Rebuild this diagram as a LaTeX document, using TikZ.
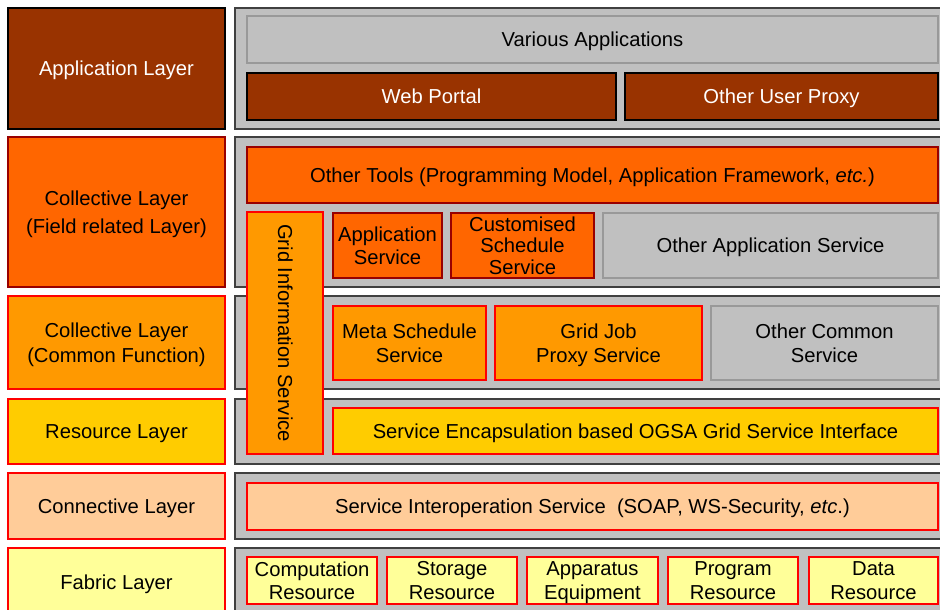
\documentclass[tikz,border=0pt]{standalone}
\usepackage{fontspec}
\setmainfont{Liberation Sans}
\usepackage{tikz}

\definecolor{appbrown}{HTML}{993300}
\definecolor{fieldorange}{HTML}{FF6600}
\definecolor{commonorange}{HTML}{FF9900}
\definecolor{resyellow}{HTML}{FFCC00}
\definecolor{connpeach}{HTML}{FFCC99}
\definecolor{fabyellow}{HTML}{FFFF99}
\definecolor{panelgray}{HTML}{C0C0C0}
\definecolor{panelline}{HTML}{404040}
\definecolor{innergray}{HTML}{999999}
\definecolor{darkred}{HTML}{990000}

\tikzset{
    wh/.style 2 args={minimum width=#1pt, minimum height=#2pt},
    panel/.style={draw=panelline, fill=panelgray, line width=2pt, anchor=north west, inner sep=0pt, outer sep=0pt},
    box/.style={line width=1.5pt, anchor=north west, inner sep=0pt, outer sep=0pt, align=center,
        text depth=-4pt, font=\fontsize{20.2}{23.5}\selectfont},
    brownbox/.style={box, draw=black, fill=appbrown, text=white},
    fieldbox/.style={box, draw=darkred, fill=fieldorange},
    commonbox/.style={box, draw=red, fill=commonorange},
    resbox/.style={box, draw=red, fill=resyellow},
    connbox/.style={box, draw=red, fill=connpeach},
    fabbox/.style={box, draw=red, fill=fabyellow},
    graybox/.style={box, draw=innergray, fill=panelgray},
}

\begin{document}
\begin{tikzpicture}[x=1pt, y=-1pt]
    \useasboundingbox (0,0) rectangle (940,610);
    \clip (0,0) rectangle (940,610);

    % grey panels on the right
    \node[panel, wh={715}{121}] (appP) at (235,8) {};
    \node[panel, wh={715}{150}] (fieldP) at (235,137) {};
    \node[panel, wh={715}{93}] (commonP) at (235,296) {};
    \node[panel, wh={715}{65}] (resP) at (235,399) {};
    \node[panel, wh={715}{66}] (connP) at (235,473) {};
    \node[panel, wh={715}{72}] (fabP) at (235,548) {};

    % layer names on the left
    \node[brownbox, wh={217}{121}] (appL) at (8,8) {Application Layer};
    \node[fieldbox, wh={217}{150}] (fieldL) at (8,137) {Collective Layer\\[4.5pt](Field related Layer)};
    \node[commonbox, wh={217}{93}] (commonL) at (8,296) {Collective Layer\\[1.5pt](Common Function)};
    \node[resbox, wh={217}{65}] (resL) at (8,399) {Resource Layer};
    \node[connbox, wh={217}{66}] (connL) at (8,473) {Connective Layer};
    \node[fabbox, wh={217}{68}] (fabL) at (8,548) {Fabric Layer};

    % application layer
    \node[graybox, wh={691}{47}] (various) at (247,16) {Various Applications};
    \node[brownbox, wh={369}{47}] (webportal) at (247,73) {Web Portal};
    \node[brownbox, wh={313}{47}] (userproxy) at (625,73) {Other User Proxy};

    % collective layer, field related
    \node[fieldbox, wh={691}{56}] (othertools) at (247,147)
        {Other Tools (Programming Model, Application Framework, \textit{etc.})};
    \node[fieldbox, wh={109}{65}] (appservice) at (333,213) {Application\\Service};
    \node[fieldbox, wh={143}{65}, text depth=-1pt, font=\fontsize{20.2}{21.5}\selectfont] (custsched) at (451,213)
        {Customised\\Schedule\\Service};
    \node[graybox, wh={335}{65}] (otherapp) at (603,213) {Other Application Service};

    % collective layer, common function
    \node[commonbox, wh={153}{74}] (metasched) at (333,306) {Meta Schedule\\Service};
    \node[commonbox, wh={207}{74}] (gridjob) at (495,306) {Grid Job\\Proxy Service};
    \node[graybox, wh={227}{74}] (othercommon) at (711,306) {Other Common\\Service};

    % resource layer
    \node[resbox, wh={605}{46}] (encap) at (333,408)
        {Service Encapsulation based OGSA Grid Service Interface};

    % connective layer
    \node[connbox, wh={691}{47}] (interop) at (247,483)
        {Service Interoperation Service\ \ (SOAP, WS-Security, \textit{etc}.)};

    % fabric layer
    \node[fabbox, wh={130}{47}] (computation) at (247,557) {Computation\\Resource};
    \node[fabbox, wh={130}{47}] (storage) at (387,557) {Storage\\Resource};
    \node[fabbox, wh={131}{47}] (apparatus) at (527,557) {Apparatus\\Equipment};
    \node[fabbox, wh={130}{47}] (program) at (668,557) {Program\\Resource};
    \node[fabbox, wh={129}{47}] (data) at (809,557) {Data\\Resource};

    % information service across three layers
    \node[commonbox, anchor=center, rotate=-90, text depth=1pt, wh={242}{76}] (gridinfo) at (285,333)
        {Grid Information Service};
\end{tikzpicture}
\end{document}
